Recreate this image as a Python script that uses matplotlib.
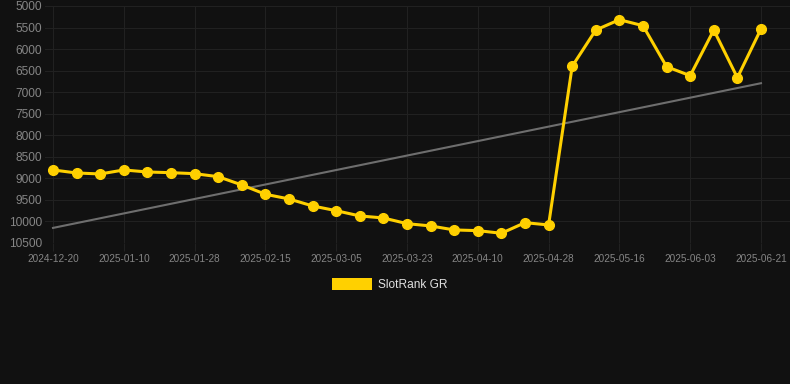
import numpy as np
import matplotlib
matplotlib.use("Agg")
import matplotlib.pyplot as plt
from matplotlib.patches import Rectangle

# data (rank, lower is better -> inverted axis)
dates = ["2024-12-20", "2024-12-27", "2025-01-03", "2025-01-10", "2025-01-16",
         "2025-01-22", "2025-01-28", "2025-02-03", "2025-02-09", "2025-02-15",
         "2025-02-21", "2025-02-27", "2025-03-05", "2025-03-11", "2025-03-17",
         "2025-03-23", "2025-03-29", "2025-04-04", "2025-04-10", "2025-04-16",
         "2025-04-22", "2025-04-28", "2025-05-04", "2025-05-10", "2025-05-16",
         "2025-05-22", "2025-05-28", "2025-06-03", "2025-06-09", "2025-06-15",
         "2025-06-21"]
ranks = [8805, 8875, 8898, 8805, 8852, 8868, 8891, 8961, 9153, 9369,
         9478, 9640, 9750, 9872, 9919, 10051, 10104, 10197, 10213, 10274,
         10028, 10081, 6399, 5557, 5318, 5457, 6408, 6617, 5557, 6664,
         5534]
yticks = [5000, 5500, 6000, 6500, 7000, 7500, 8000, 8500, 9000, 9500, 10000, 10500]
series_name = "SlotRank GR"

bg = "#111111"
yellow = "#FFD000"
plt.rcParams["font.family"] = ["Liberation Sans", "DejaVu Sans"]

fig = plt.figure(figsize=(7.9, 3.84), dpi=100, facecolor=bg)
ax = fig.add_axes([45 / 790, 1 - 243 / 384, 1 - 45 / 790, (243 - 6) / 384])
ax.set_facecolor(bg)

x = np.arange(len(ranks))

# trend line (least squares fit)
coef = np.polyfit(x, ranks, 1)
ax.plot(x, np.polyval(coef, x), color="#6e6e6e", lw=1.5, zorder=2)

ax.plot(x, ranks, color=yellow, lw=2.2, marker="o", ms=7,
        markerfacecolor=yellow, markeredgecolor=yellow, zorder=3)

ax.set_ylim(10500, 5000)
ax.set_xlim(-0.34, 31.23)
ax.set_yticks(yticks)
ax.set_yticklabels([str(t) for t in yticks])
tick_idx = x[::3]
ax.set_xticks(tick_idx)
ax.set_xticklabels([dates[i] for i in tick_idx])

ax.grid(True, color="#212121", lw=0.8)
for s in ax.spines.values():
    s.set_visible(False)
ax.tick_params(axis="y", length=0, pad=2, labelsize=8.6, colors="#858585")
ax.tick_params(axis="x", length=6, color="#212121", pad=2, labelsize=7.2,
               labelcolor="#858585")

# legend drawn by hand to match the centered box under the axis
fig.patches.append(Rectangle((332 / 790, 1 - 290 / 384), 40 / 790, 12 / 384,
                             transform=fig.transFigure, facecolor=yellow,
                             edgecolor="none"))
fig.text(378 / 790, 1 - 285 / 384, series_name, color="#e0e0e0",
         fontsize=8.6, va="center", ha="left")

fig.savefig("out.png", dpi=100, facecolor=bg)
